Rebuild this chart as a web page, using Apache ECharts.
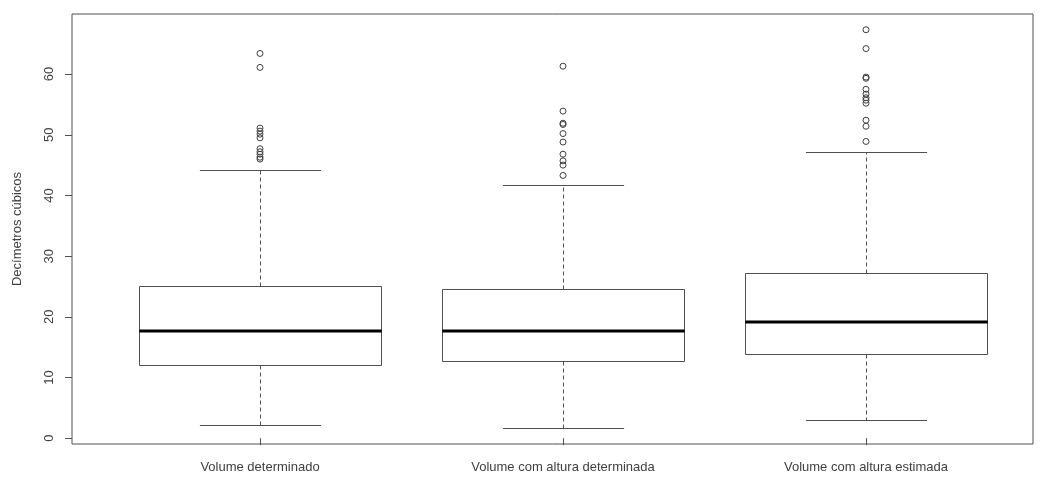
<!DOCTYPE html>
<html>
<head>
<meta charset="utf-8">
<script src="https://cdn.jsdelivr.net/npm/echarts@6/dist/echarts.min.js"></script>
<style>
html,body{margin:0;padding:0;background:#fff;}
#chart{width:1040px;height:477px;}
</style>
</head>
<body>
<div id="chart"></div>
<script>
const categories = ['Volume determinado', 'Volume com altura determinada', 'Volume com altura estimada'];
const lowerWhisker = [2.2, 1.7, 3.0];
const q1 = [12.1, 12.75, 13.9];
const median = [17.7, 17.7, 19.2];
const q3 = [25.15, 24.6, 27.2];
const upperWhisker = [44.2, 41.7, 47.2];
const outliers1 = [63.4, 61.1, 51.1, 50.6, 50.1, 49.5, 47.7, 47.2, 46.8, 46.3, 46.0];
const outliers2 = [61.3, 53.9, 51.9, 51.7, 50.2, 48.8, 46.8, 45.7, 45.0, 43.3];
const outliers3 = [67.3, 64.2, 59.5, 59.3, 57.5, 56.7, 56.1, 55.7, 55.2, 52.4, 51.4, 48.9];
const yTicks = [0, 10, 20, 30, 40, 50, 60];
const yTitle = 'Decímetros cúbicos';

const boxData = categories.map((c, i) => [i, lowerWhisker[i], q1[i], median[i], q3[i], upperWhisker[i]]);
const outlierData = [];
[outliers1, outliers2, outliers3].forEach((arr, i) => arr.forEach(v => outlierData.push([i, v])));

const lineCol = '#505050';
const textCol = '#404040';
const font = 'Liberation Sans, Arial, sans-serif';

function renderBox(params, api) {
  const x = api.value(0);
  const band = api.size([1, 0])[0];
  const half = band * 0.8 / 2;
  const cap = half / 2;
  const pLo = api.coord([x, api.value(1)]);
  const pQ1 = api.coord([x, api.value(2)]);
  const pMed = api.coord([x, api.value(3)]);
  const pQ3 = api.coord([x, api.value(4)]);
  const pHi = api.coord([x, api.value(5)]);
  const cx = Math.round(pMed[0]) + 0.5;
  const r = v => Math.round(v) + 0.5;
  const dash = {stroke: lineCol, lineWidth: 1, lineDash: [4, 3]};
  const solid = {stroke: lineCol, lineWidth: 1};
  return {
    type: 'group',
    children: [
      {type: 'line', shape: {x1: cx, y1: r(pQ3[1]), x2: cx, y2: r(pHi[1])}, style: dash},
      {type: 'line', shape: {x1: cx, y1: r(pQ1[1]), x2: cx, y2: r(pLo[1])}, style: dash},
      {type: 'line', shape: {x1: cx - cap, y1: r(pHi[1]), x2: cx + cap, y2: r(pHi[1])}, style: solid},
      {type: 'line', shape: {x1: cx - cap, y1: r(pLo[1]), x2: cx + cap, y2: r(pLo[1])}, style: solid},
      {type: 'rect', shape: {x: r(cx - half), y: r(pQ3[1]), width: Math.round(2 * half), height: Math.round(pQ1[1] - pQ3[1])},
        style: {fill: '#fff', stroke: lineCol, lineWidth: 1}},
      {type: 'line', shape: {x1: cx - half, y1: Math.round(pMed[1]), x2: cx + half, y2: Math.round(pMed[1])},
        style: {stroke: '#000', lineWidth: 3}}
    ]
  };
}

const chart = echarts.init(document.getElementById('chart'), null, {renderer: 'canvas'});
chart.setOption({
  animation: false,
  backgroundColor: '#fff',
  grid: [
    {left: 108.5, right: 22.5, top: 14, bottom: 33},
    {left: 72, right: 7, top: 14, bottom: 33, show: true, borderColor: lineCol, borderWidth: 1, backgroundColor: 'transparent', z: 10}
  ],
  xAxis: [
    {
      type: 'category', data: categories, gridIndex: 0,
      axisLine: {show: false},
      axisTick: {show: true, alignWithLabel: true, length: 7, lineStyle: {color: lineCol}},
      axisLabel: {color: textCol, fontSize: 13, fontFamily: font, margin: 17}
    },
    {type: 'value', gridIndex: 1, show: false, min: 0, max: 1}
  ],
  yAxis: [
    {
      type: 'value', gridIndex: 0, min: -0.95, max: 69.9, offset: 36.5,
      name: yTitle, nameLocation: 'middle', nameGap: 48,
      nameTextStyle: {color: textCol, fontSize: 13, fontFamily: font},
      splitLine: {show: false},
      axisLine: {show: false},
      axisTick: {show: true, length: 7, customValues: yTicks, lineStyle: {color: lineCol}},
      axisLabel: {show: true, customValues: yTicks, rotate: 90, color: textCol, fontSize: 13, fontFamily: font, margin: 16}
    },
    {type: 'value', gridIndex: 1, show: false, min: 0, max: 1}
  ],
  series: [
    {
      type: 'custom', xAxisIndex: 0, yAxisIndex: 0,
      renderItem: renderBox,
      encode: {x: 0, y: [1, 2, 3, 4, 5]},
      data: boxData, z: 2
    },
    {
      type: 'scatter', xAxisIndex: 0, yAxisIndex: 0,
      symbol: 'circle', symbolSize: 6,
      itemStyle: {color: 'transparent', borderColor: '#404040', borderWidth: 1, opacity: 1},
      data: outlierData, z: 3
    }
  ]
});
</script>
</body>
</html>
